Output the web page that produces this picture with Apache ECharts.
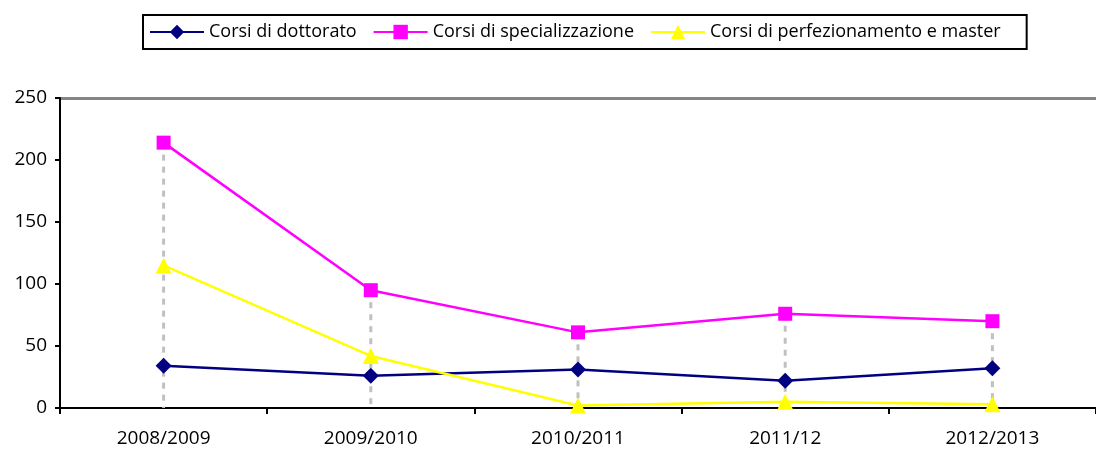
<!DOCTYPE html>
<html>
<head>
<meta charset="utf-8">
<script src="https://cdn.jsdelivr.net/npm/echarts@6/dist/echarts.min.js"></script>
<style>
  html, body { margin: 0; padding: 0; background: #fff; }
  #chart { width: 1096px; height: 452px; }
</style>
</head>
<body>
<div id="chart"></div>
<script>
// anni accademici
const years = ['2008/2009', '2009/2010', '2010/2011', '2011/12', '2012/2013'];

const dottorato = [34, 26, 31, 22, 32];
const specializzazione = [214, 95, 61, 76, 70];
const perfezionamento = [115, 42, 2, 5, 3];

const yTicks = [0, 50, 100, 150, 200, 250];

// drop lines: from the highest point of each year down to 0
const dropTop = years.map((y, i) => Math.max(dottorato[i], specializzazione[i], perfezionamento[i]));

const chart = echarts.init(document.getElementById('chart'));

const font = 'Open Sans, DejaVu Sans, sans-serif';

const option = {
    animation: false,
    textStyle: { fontFamily: font },
    legend: {
        left: 143,
        top: 15,
        height: 41,
        padding: [8, 26, 8, 6],
        borderColor: '#000',
        borderWidth: 2,
        itemGap: 16,
        itemWidth: 54,
        itemHeight: 18,
        textStyle: { fontSize: 18, color: '#000', fontFamily: font },
        data: ['Corsi di dottorato', 'Corsi di specializzazione', 'Corsi di perfezionamento e master']
    },
    grid: { left: 60, right: 0, top: 98, bottom: 44 },
    xAxis: {
        type: 'category',
        data: years,
        boundaryGap: true,
        axisLine: { lineStyle: { color: '#000', width: 2 } },
        axisTick: { show: true, length: 6, lineStyle: { color: '#000', width: 2 } },
        axisLabel: { fontSize: 19, color: '#000', margin: 21, fontFamily: font },
        splitLine: { show: false }
    },
    yAxis: {
        type: 'value',
        min: yTicks[0],
        max: yTicks[yTicks.length - 1],
        interval: 50,
        axisLine: { show: true, lineStyle: { color: '#000', width: 2 } },
        axisTick: { show: true, length: 5, lineStyle: { color: '#000', width: 2 } },
        axisLabel: { fontSize: 19, color: '#000', margin: 13, fontFamily: font },
        splitLine: {
            show: true,
            lineStyle: {
                color: ['rgba(0,0,0,0)', 'rgba(0,0,0,0)', 'rgba(0,0,0,0)', 'rgba(0,0,0,0)', 'rgba(0,0,0,0)', '#858585'],
                width: 3
            }
        }
    },
    series: [
        {
            type: 'custom',
            silent: true,
            z: 1,
            data: dropTop.map((v, i) => [i, v]),
            renderItem: function (params, api) {
                const top = api.coord([api.value(0), api.value(1)]);
                const bottom = api.coord([api.value(0), 0]);
                return {
                    type: 'line',
                    shape: { x1: top[0], y1: top[1], x2: bottom[0], y2: bottom[1] },
                    style: { stroke: '#C0C0C0', lineWidth: 3, lineDash: [6, 6] }
                };
            }
        },
        {
            name: 'Corsi di dottorato',
            type: 'line',
            z: 3,
            data: dottorato,
            symbol: 'diamond',
            symbolSize: 16,
            lineStyle: { color: '#000080', width: 2.5 },
            itemStyle: { color: '#000080' }
        },
        {
            name: 'Corsi di specializzazione',
            type: 'line',
            z: 3,
            data: specializzazione,
            symbol: 'rect',
            symbolSize: 14,
            lineStyle: { color: '#FF00FF', width: 2.5 },
            itemStyle: { color: '#FF00FF' }
        },
        {
            name: 'Corsi di perfezionamento e master',
            type: 'line',
            z: 3,
            data: perfezionamento,
            symbol: 'triangle',
            symbolSize: 16,
            lineStyle: { color: '#FFFF00', width: 2.5 },
            itemStyle: { color: '#FFFF00' }
        }
    ]
};

chart.setOption(option);
</script>
</body>
</html>
